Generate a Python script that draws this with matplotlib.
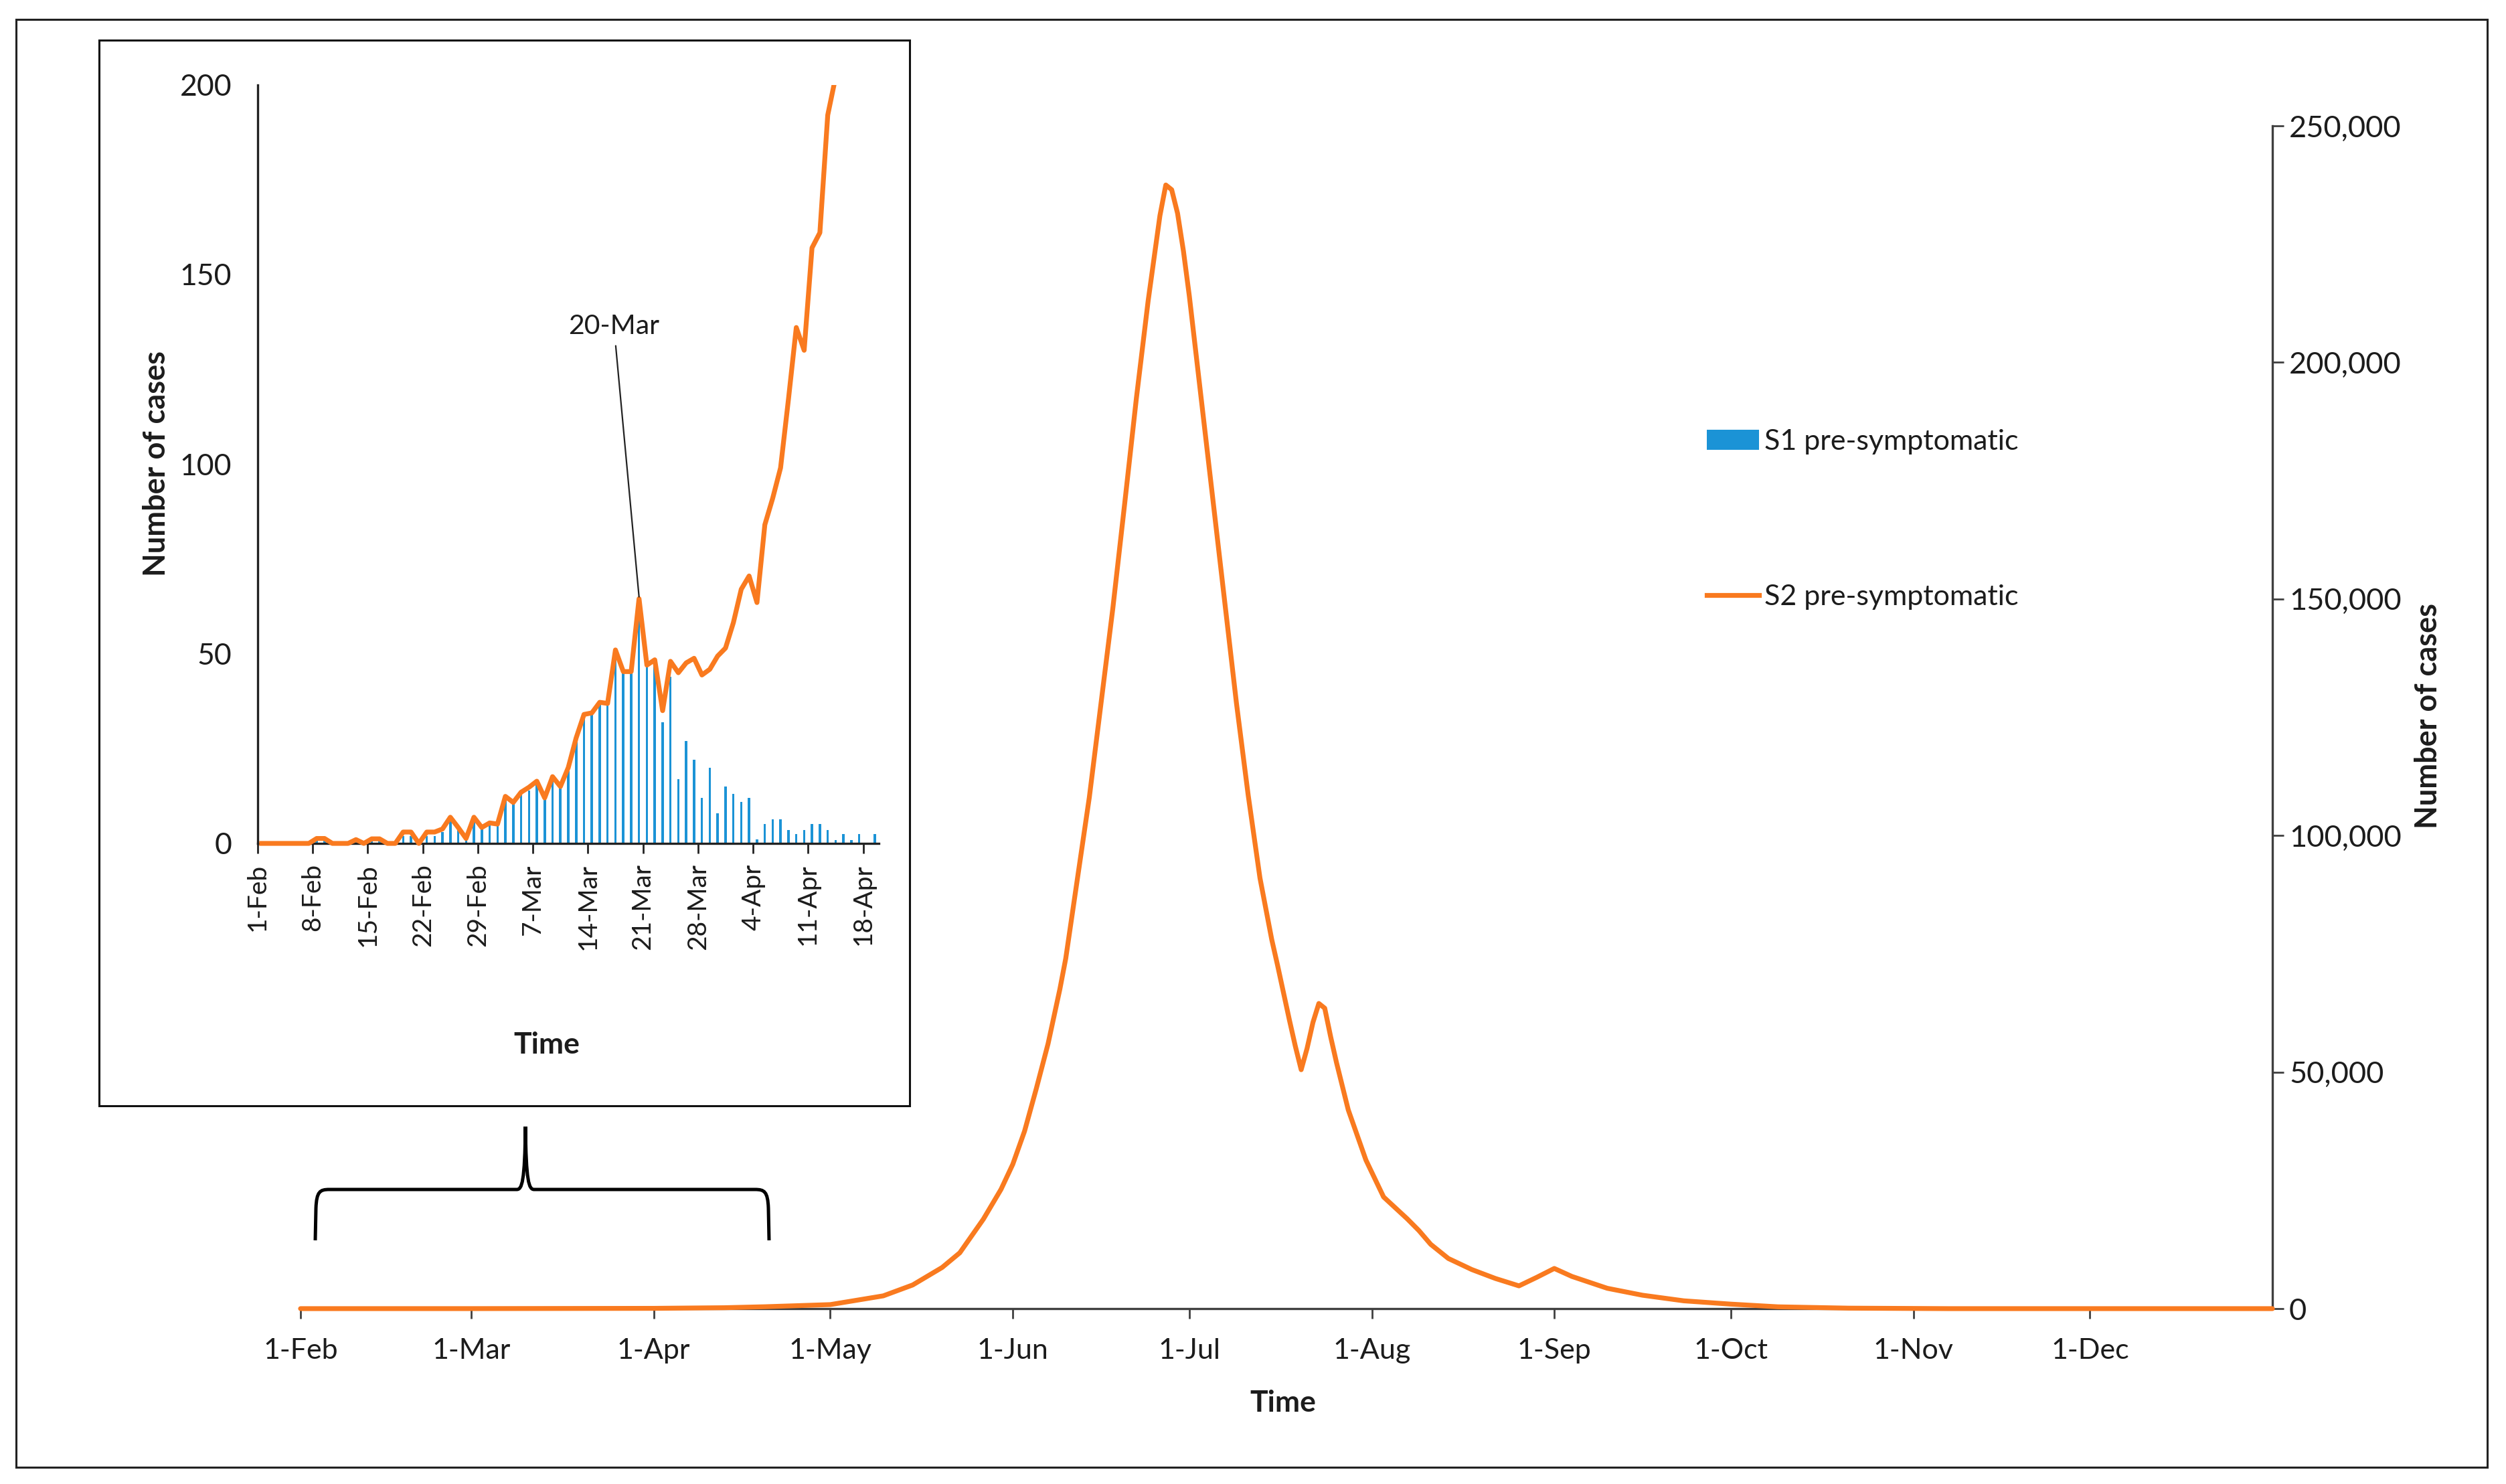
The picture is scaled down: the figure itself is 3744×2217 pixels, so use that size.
import numpy as np
import pandas as pd
import matplotlib
matplotlib.use("Agg")
import matplotlib.pyplot as plt
from matplotlib.patches import Rectangle, Patch, PathPatch
from matplotlib.lines import Line2D
from matplotlib.path import Path
from matplotlib.ticker import FuncFormatter

plt.rcParams['font.family'] = ['Lato', 'DejaVu Sans']

# inset: daily values, 1-Feb .. 19-Apr
s1_pre = [0, 0, 0, 0, 0, 0, 0, 1, 1, 0,
          0, 0, 1, 0, 1, 1, 0, 0, 2, 2,
          0, 2, 2, 3, 6, 4, 1, 6, 4, 5,
          5, 12, 11, 13, 14, 16, 12, 17, 15, 19,
          27, 34, 34, 37, 37, 51, 45, 45, 64, 47,
          48, 32, 44, 17, 27, 22, 12, 20, 8, 15,
          13, 11, 12, 1, 5.2, 6.3, 6.3, 3.5, 2.5, 3.5,
          5.2, 5.2, 3.5, 0.9, 2.5, 0.9, 2.5, 0, 2.5]
s2_pre = [0, 0, 0, 0, 0, 0, 0, 1.3, 1.3, 0,
          0, 0, 1, 0, 1.2, 1.2, 0, 0, 3, 3,
          0, 3, 3, 3.8, 6.9, 4.2, 1.3, 6.9, 4.2, 5.4,
          5.1, 12.4, 10.8, 13.5, 14.8, 16.4, 12, 17.6, 15, 20,
          27.8, 34, 34.4, 37.2, 36.9, 51, 45.3, 45.3, 64.5, 47,
          48.4, 35, 48, 45, 47.6, 48.8, 44.4, 45.9, 49.4, 51.5,
          58.2, 67, 70.5, 63.5, 84, 91, 99, 117, 136, 130,
          157, 161, 192, 202, 235]
inset_tick_labels = ['1-Feb', '8-Feb', '15-Feb', '22-Feb', '29-Feb', '7-Mar',
                     '14-Mar', '21-Mar', '28-Mar', '4-Apr', '11-Apr', '18-Apr']

# main chart: S2 pre-symptomatic over the year
main_dates = ['2020-02-01', '2020-03-01', '2020-04-01', '2020-04-13', '2020-04-20',
              '2020-05-01', '2020-05-10', '2020-05-15', '2020-05-20', '2020-05-23',
              '2020-05-27', '2020-05-30', '2020-06-01', '2020-06-03', '2020-06-05',
              '2020-06-07', '2020-06-09', '2020-06-10', '2020-06-12', '2020-06-14',
              '2020-06-16', '2020-06-18', '2020-06-20', '2020-06-22', '2020-06-24',
              '2020-06-26', '2020-06-27', '2020-06-28', '2020-06-29', '2020-06-30',
              '2020-07-01', '2020-07-03', '2020-07-05', '2020-07-07', '2020-07-09',
              '2020-07-11', '2020-07-13', '2020-07-15', '2020-07-16', '2020-07-18',
              '2020-07-19', '2020-07-20', '2020-07-21', '2020-07-22', '2020-07-23',
              '2020-07-24', '2020-07-25', '2020-07-26', '2020-07-28', '2020-07-31',
              '2020-08-03', '2020-08-07', '2020-08-09', '2020-08-11', '2020-08-14',
              '2020-08-18', '2020-08-22', '2020-08-26', '2020-08-29', '2020-09-01',
              '2020-09-04', '2020-09-10', '2020-09-16', '2020-09-23', '2020-10-01',
              '2020-10-09', '2020-10-21', '2020-11-07', '2021-01-01']
main_s2 = [0, 5, 60, 192, 400,
           850, 2700, 5000, 8700, 11800,
           18900, 25200, 30500, 37500, 46500,
           56000, 67500, 74000, 91000, 108000,
           128000, 148000, 170000, 192400, 213000,
           231000, 237500, 236500, 231500, 223500,
           214000, 192500, 171000, 149500, 128000,
           108500, 91000, 78000, 72500, 61000,
           55500, 50500, 55000, 60500, 64500,
           63500, 57500, 52000, 42000, 31400,
           23600, 19000, 16500, 13600, 10600,
           8250, 6370, 4810, 6600, 8490,
           6800, 4300, 2830, 1650, 950,
           380, 100, 0, 0]
main_tick_labels = ['1-Feb', '1-Mar', '1-Apr', '1-May', '1-Jun', '1-Jul',
                    '1-Aug', '1-Sep', '1-Oct', '1-Nov', '1-Dec']

BLUE = '#1B93D6'
ORANGE = '#F97A1F'
TXT = '#1c1c1c'
FS = 31

W, H = 3744, 2217


def fx(px):
    return px / W


def fy(py):
    return 1 - py / H


fig = plt.figure(figsize=(W / 100, H / 100), dpi=100)

# outer frame
fig.patches.append(Rectangle((fx(24), fy(2192)), fx(3716) - fx(24), fy(29) - fy(2192),
                             transform=fig.transFigure, fill=False, ec='#222222', lw=2.2, zorder=1))

# ---- main chart
ax = fig.add_axes([fx(449), fy(1955), fx(3395) - fx(449), fy(188) - fy(1955)])
ax.plot(pd.to_datetime(main_dates), main_s2, color=ORANGE, lw=5.2,
        solid_joinstyle='round', solid_capstyle='round', clip_on=False, zorder=3)
ax.set_xlim(pd.Timestamp('2020-02-01'), pd.Timestamp('2021-01-01'))
ax.set_ylim(0, 250000)
ax.set_xticks(pd.date_range('2020-02-01', '2020-12-01', freq='MS'))
ax.set_xticklabels(main_tick_labels)
ax.set_yticks(np.arange(0, 250001, 50000))
ax.yaxis.set_major_formatter(FuncFormatter(lambda v, p: f'{int(v):,}'))
ax.yaxis.tick_right()
ax.spines['left'].set_visible(False)
ax.spines['top'].set_visible(False)
ax.spines['bottom'].set_color('#404040')
ax.spines['bottom'].set_linewidth(2.4)
ax.spines['right'].set_color('#404040')
ax.spines['right'].set_linewidth(2.4)
ax.tick_params(axis='x', length=10.8, width=2, color='#404040', pad=21,
               labelsize=FS, labelcolor=TXT)
ax.tick_params(axis='y', length=12, width=2, color='#404040', pad=6,
               labelsize=FS + 1.5, labelcolor=TXT)
ax.patch.set_alpha(0)

fig.text(fx(1917), fy(2096), 'Time', ha='center', va='center', fontsize=FS + 1,
         fontweight='bold', color=TXT)
fig.text(fx(3628), fy(1070), 'Number of cases', ha='center', va='center', fontsize=FS + 1.5,
         fontweight='bold', color=TXT, rotation=90)

handles = [Patch(facecolor=BLUE, edgecolor='none'),
           Line2D([], [], color=ORANGE, lw=5.2)]
ax.legend(handles, ['S1 pre-symptomatic', 'S2 pre-symptomatic'],
          loc='upper left', bbox_to_anchor=(fx(2550), fy(641)),
          bbox_transform=fig.transFigure, frameon=False, fontsize=FS,
          labelspacing=4.5, handlelength=1.8, handletextpad=0.2,
          borderpad=0, borderaxespad=0, labelcolor=TXT)

# ---- inset box
fig.patches.append(Rectangle((fx(148), fy(1652)), fx(1359) - fx(148), fy(60) - fy(1652),
                             transform=fig.transFigure, fc='white', ec='#111111',
                             lw=2.2, zorder=2))

ax_in = fig.add_axes([fx(385), fy(1260), fx(1313) - fx(385), fy(126.6) - fy(1260)])
ax_in.set_zorder(3)
ax_in.patch.set_alpha(0)
ax_in.bar(np.arange(len(s1_pre)) + 0.5, s1_pre, width=0.3, color=BLUE, zorder=2)
ln, = ax_in.plot(np.arange(len(s2_pre)) + 0.5, s2_pre, color=ORANGE, lw=5.2,
                 solid_joinstyle='round', zorder=3)
ln.set_clip_path(Rectangle((-0.02, -0.05), 1.04, 1.05, transform=ax_in.transAxes))
ax_in.set_xlim(0, 79)
ax_in.set_ylim(0, 200)
ax_in.set_xticks(np.arange(0, 78, 7))
ax_in.set_xticklabels(inset_tick_labels, rotation=90)
ax_in.set_yticks(np.arange(0, 201, 50))
ax_in.spines['top'].set_visible(False)
ax_in.spines['right'].set_visible(False)
for s in ('left', 'bottom'):
    ax_in.spines[s].set_color('#222222')
    ax_in.spines[s].set_linewidth(2.4)
ax_in.tick_params(axis='x', length=10.8, width=2, color='#222222', pad=11,
                  labelsize=FS - 3, labelcolor=TXT)
ax_in.tick_params(axis='y', length=0, pad=28, labelsize=FS + 1, labelcolor=TXT)

ax_in.annotate('20-Mar', xy=(48.5, 65), xytext=(45.3, 136.4), textcoords='data',
               ha='center', va='center', fontsize=FS - 1.5, color=TXT,
               arrowprops=dict(arrowstyle='-', color='#222222', lw=1.6,
                               shrinkA=6, shrinkB=0))

fig.text(fx(817), fy(1561), 'Time', ha='center', va='center', fontsize=FS + 1,
         fontweight='bold', color=TXT)
fig.text(fx(234), fy(692), 'Number of cases', ha='center', va='center', fontsize=FS + 1.5,
         fontweight='bold', color=TXT, rotation=90)

# ---- curly brace under the inset
pts = [(471, 1853), (472, 1805), (473, 1780), (478, 1777), (492, 1777),
       (772, 1777), (780, 1777), (784, 1765), (785, 1683),
       (786, 1765), (790, 1777), (798, 1777),
       (1128, 1777), (1142, 1777), (1147, 1780), (1148, 1805), (1149, 1853)]
codes = [Path.MOVETO, Path.LINETO, Path.CURVE4, Path.CURVE4, Path.CURVE4,
         Path.LINETO, Path.CURVE4, Path.CURVE4, Path.CURVE4,
         Path.CURVE4, Path.CURVE4, Path.CURVE4,
         Path.LINETO, Path.CURVE4, Path.CURVE4, Path.CURVE4, Path.LINETO]
brace = Path([(fx(x), fy(y)) for x, y in pts], codes)
fig.patches.append(PathPatch(brace, transform=fig.transFigure, fill=False,
                             ec='black', lw=3.6, zorder=2))

fig.savefig('out.png', dpi=100)
